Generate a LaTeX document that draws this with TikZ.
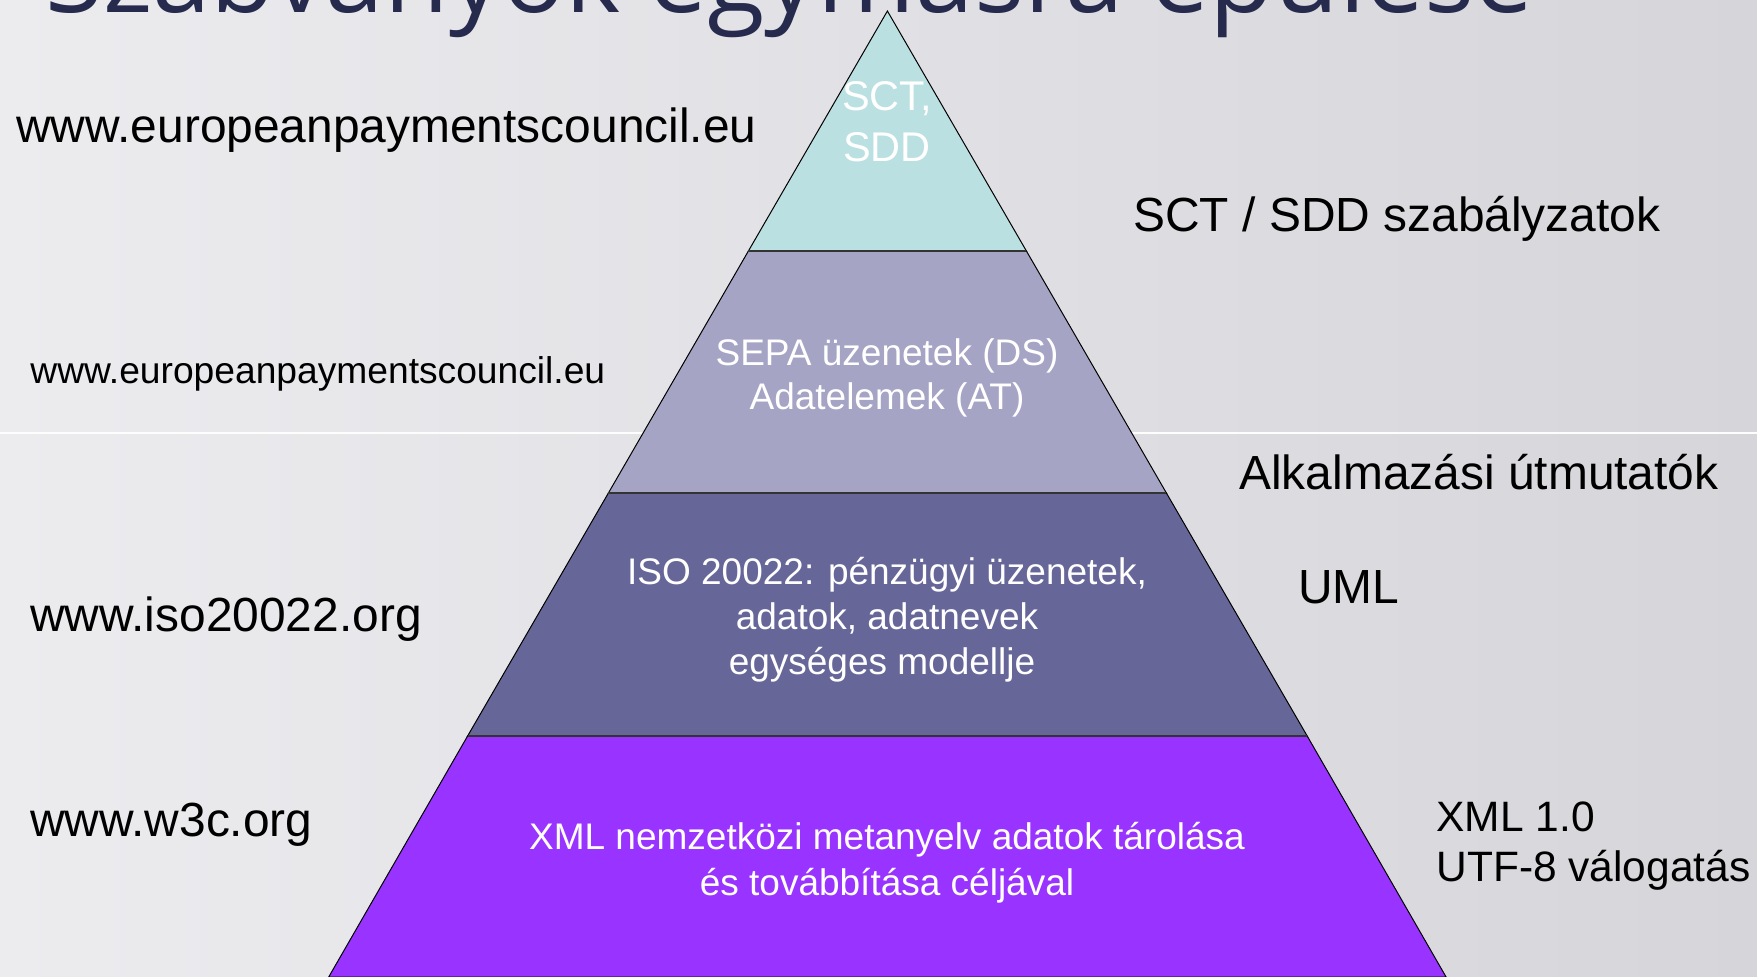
\documentclass[tikz,border=0pt]{standalone}
\usepackage{fontspec}
\setmainfont{Liberation Sans}
\newfontfamily\titlefont{Open Sans}
\definecolor{bgL}{HTML}{ECECEF}
\definecolor{bgR}{HTML}{D6D5DA}
\definecolor{layA}{HTML}{BAE0E2}
\definecolor{layB}{HTML}{A5A4C5}
\definecolor{layC}{HTML}{666699}
\definecolor{layD}{HTML}{9933FF}
\definecolor{titlecol}{HTML}{262B4E}
\begin{document}
\begin{tikzpicture}[x=0.5pt,y=-0.5pt,
  biglabel/.style={anchor=base west,inner sep=0pt,font=\fontsize{23.95}{28}\selectfont,text=black},
  smalllabel/.style={anchor=base west,inner sep=0pt,font=\fontsize{18.6}{22}\selectfont,text=black},
  xmllabel/.style={anchor=base west,inner sep=0pt,font=\fontsize{21.25}{25}\selectfont,text=black},
  inlabel/.style={anchor=base,inner sep=0pt,font=\fontsize{18.5}{22}\selectfont,text=white},
  toplabel/.style={anchor=base,inner sep=0pt,font=\fontsize{20.75}{25}\selectfont,text=white},
  layer/.style={draw=black,line width=0.5pt,line join=miter},
  divider/.style={draw=black!80,line width=1.4pt}]
\useasboundingbox (0,0) rectangle (1757,976);
\clip (0,0) rectangle (1757,976);
% background
\shade[left color=bgL,right color=bgR] (0,0) rectangle (1757,976);
\coordinate (hl) at (0,433);
\coordinate (hr) at (1757,433);
\draw[white!90!bgL,line width=1pt] (hl) -- (hr);
% title
\node[anchor=base west,inner sep=0pt,font=\titlefont\fontsize{52.6}{60}\selectfont,text=titlecol] (title) at (45,12) {Szabványok egymásra épülése};
% pyramid
\coordinate (A) at (887.4,11);
\coordinate (L1) at (748.4,251);
\coordinate (R1) at (1026.4,251);
\coordinate (L2) at (608.4,493);
\coordinate (R2) at (1166.4,493);
\coordinate (L3) at (467.6,736);
\coordinate (R3) at (1307.2,736);
\coordinate (L4) at (328.7,977);
\coordinate (R4) at (1446.1,977);
\filldraw[layer,fill=layD] (L3) -- (R3) -- (R4) -- (L4) -- cycle;
\filldraw[layer,fill=layC] (L2) -- (R2) -- (R3) -- (L3) -- cycle;
\filldraw[layer,fill=layB] (L1) -- (R1) -- (R2) -- (L2) -- cycle;
\filldraw[layer,fill=layA] (A) -- (R1) -- (L1) -- cycle;
\draw[divider] (L1) -- (R1);
\draw[divider] (L2) -- (R2);
\draw[divider] (L3) -- (R3);
% texts inside
\node[toplabel] (t1a) at (887,110) {SCT,};
\node[toplabel] (t1b) at (887,161) {SDD};
\node[inlabel] (t2a) at (887,365) {SEPA üzenetek (DS)};
\node[inlabel] (t2b) at (887,409) {Adatelemek (AT)};
\node[inlabel] (t3a) at (887,584) {ISO 20022: pénzügyi üzenetek,};
\node[inlabel] (t3b) at (887,629) {adatok, adatnevek};
\node[inlabel] (t3c) at (882,674) {egységes modellje};
\node[inlabel] (t4a) at (887,849) {XML nemzetközi metanyelv adatok tárolása};
\node[inlabel] (t4b) at (887,895) {és továbbítása céljával};
% left labels
\node[biglabel] (epc1) at (16,142) {www.europeanpaymentscouncil.eu};
\node[smalllabel] (epc2) at (30,383) {www.europeanpaymentscouncil.eu};
\node[biglabel] (iso) at (30,631) {www.iso20022.org};
\node[biglabel] (w3c) at (30,836) {www.w3c.org};
% right labels
\node[biglabel] (rules) at (1133,231) {SCT / SDD szabályzatok};
\node[biglabel] (guides) at (1239,489) {Alkalmazási útmutatók};
\node[biglabel] (uml) at (1298,603) {UML};
\node[xmllabel] (xml1) at (1436,831) {XML 1.0};
\node[xmllabel] (xml2) at (1436,881) {UTF-8 válogatás};
\end{tikzpicture}
\end{document}
